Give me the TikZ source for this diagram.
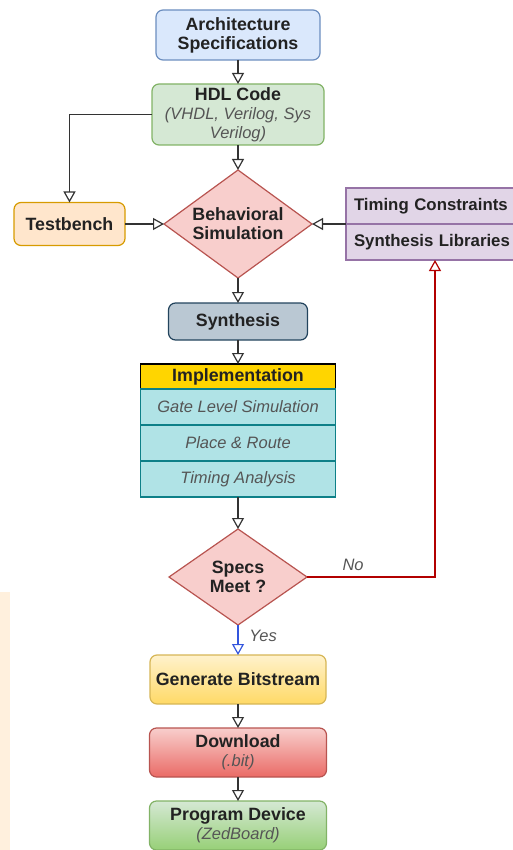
\documentclass[tikz,border=0pt]{standalone}
\usepackage{fontspec}
\setmainfont{Liberation Sans}
\usetikzlibrary{arrows.meta}
\usetikzlibrary{shapes, positioning}

\definecolor{textdark}{HTML}{222222}
\definecolor{textgray}{HTML}{555555}
\definecolor{linedark}{HTML}{333333}
\definecolor{archfill}{HTML}{DAE8FC}
\definecolor{archline}{HTML}{6C8EBF}
\definecolor{hdlfill}{HTML}{D5E8D4}
\definecolor{hdlline}{HTML}{82B366}
\definecolor{tbfill}{HTML}{FFE6CC}
\definecolor{tbline}{HTML}{D79B00}
\definecolor{simfill}{HTML}{F8CECC}
\definecolor{simline}{HTML}{B85450}
\definecolor{libfill}{HTML}{E1D5E7}
\definecolor{libline}{HTML}{9673A6}
\definecolor{synfill}{HTML}{BAC8D3}
\definecolor{synline}{HTML}{23445D}
\definecolor{implhead}{HTML}{FFD500}
\definecolor{implfill}{HTML}{B0E3E6}
\definecolor{implline}{HTML}{0E8088}
\definecolor{genline}{HTML}{D6B656}
\definecolor{gentop}{HTML}{FFF2CC}
\definecolor{genbot}{HTML}{FFD966}
\definecolor{dltop}{HTML}{F8CECC}
\definecolor{dlbot}{HTML}{EA6B66}
\definecolor{progbot}{HTML}{97D077}
\definecolor{noline}{HTML}{B20000}
\definecolor{yesline}{HTML}{3355DD}
\definecolor{stripfill}{HTML}{FFF0DD}

\newcommand{\subnote}[1]{{\fontsize{16.5}{19}\selectfont\mdseries\itshape\color{textgray}#1}}

\begin{document}
\begin{tikzpicture}[node distance=24pt,
    every node/.style={font=\fontsize{17.8}{19}\selectfont\bfseries, text=textdark, outer sep=0pt},
    box/.style={rectangle, rounded corners=7pt, line width=1.2pt, align=center, inner sep=0pt},
    decision/.style={diamond, aspect=1.4, line width=1.2pt, inner sep=0pt, align=center, fill=simfill, draw=simline},
    listbox/.style={rectangle, line width=1.2pt, minimum width=178pt, minimum height=36pt, text width=162pt, inner xsep=8pt, align=left, fill=libfill, draw=libline, font=\fontsize{16.8}{19}\selectfont\bfseries},
    row/.style={rectangle, line width=1.2pt, minimum width=195pt, minimum height=36pt, inner sep=0pt, fill=implfill, draw=implline},
    flow/.style={-{Triangle[open, length=11pt, width=12pt]}, line width=1.2pt, draw=linedark},
]
    \useasboundingbox (0pt,0pt) rectangle (513pt,-850pt);
    \fill[stripfill] (0pt,-592pt) rectangle (10pt,-850pt);

    % Define nodes
    \node[box, fill=archfill, draw=archline, minimum width=164pt, minimum height=50pt] (arch) at (238pt,-35pt) {Architecture\\Specifications};
    \node[box, fill=hdlfill, draw=hdlline, minimum width=172pt, minimum height=61pt, below=24pt of arch] (hdl) {HDL Code\\\subnote{(VHDL, Verilog, Sys}\\\subnote{Verilog)}};

    \node[decision, minimum width=148pt, minimum height=108pt, below=25pt of hdl] (behsim) {Behavioral\\Simulation};
    \node[box, fill=tbfill, draw=tbline, minimum width=111pt, minimum height=43pt, left=39pt of behsim] (tb) {Testbench};
    \node[listbox, right=34pt of behsim.east, anchor=south west] (timing) {Timing Constraints};
    \node[listbox, below=0pt of timing] (synlib) {Synthesis Libraries};

    \node[box, fill=synfill, draw=synline, minimum width=139pt, minimum height=37pt, below=25pt of behsim] (synth) {Synthesis};

    \node[rectangle, line width=1.2pt, fill=implhead, draw=black, minimum width=195pt, minimum height=25pt, inner sep=0pt, below=24pt of synth] (impl) {Implementation};
    \node[row, below=0pt of impl] (gatesim) {\subnote{Gate Level Simulation}};
    \node[row, below=0pt of gatesim] (pnr) {\subnote{Place \& Route}};
    \node[row, below=0pt of pnr] (sta) {\subnote{Timing Analysis}};

    \node[decision, minimum width=138pt, minimum height=96pt, below=32pt of sta] (specs) {Specs\\Meet ?};

    \node[box, top color=gentop, bottom color=genbot, draw=genline, minimum width=176pt, minimum height=49pt, below=30pt of specs] (bitgen) {Generate Bitstream};
    \node[box, top color=dltop, bottom color=dlbot, draw=simline, minimum width=177pt, minimum height=49pt, below=24pt of bitgen] (dload) {Download\\\subnote{(.bit)}};
    \node[box, top color=hdlfill, bottom color=progbot, draw=hdlline, minimum width=177pt, minimum height=49pt, below=24pt of dload] (prog) {Program Device\\\subnote{(ZedBoard)}};

    % Connect nodes with arrows
    \draw[flow] (arch) -- (hdl);
    \draw[flow] (hdl) -- (behsim);
    \draw[flow] (hdl.west) -| (tb.north);
    \draw[flow] (tb) -- (behsim);
    \draw[flow] (timing.south west) -- (behsim.east);
    \draw[flow] (behsim) -- (synth);
    \draw[flow] (synth) -- (impl);
    \draw[flow] (sta) -- (specs);
    \draw[flow, draw=noline, -{Triangle[open, length=11pt, width=12pt, color=noline]}] (specs.east) -| node[pos=0.18, above=3pt, font=\fontsize{16.5}{19}\selectfont\itshape, text=textgray] {No} (synlib.south);
    \draw[flow, draw=yesline, -{Triangle[open, length=11pt, width=12pt, color=yesline]}] (specs) -- node[pos=0.35, right=8pt, font=\fontsize{16.5}{19}\selectfont\itshape, text=textgray] {Yes} (bitgen);
    \draw[flow] (bitgen) -- (dload);
    \draw[flow] (dload) -- (prog);
\end{tikzpicture}
\end{document}
